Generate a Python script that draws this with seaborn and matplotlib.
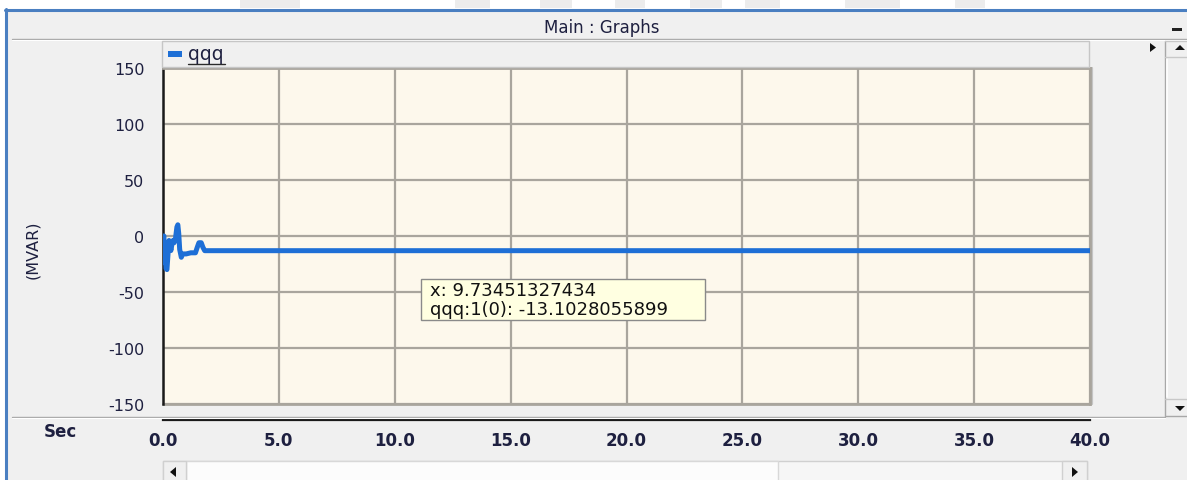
import matplotlib
matplotlib.use("Agg")
import matplotlib.pyplot as plt
from matplotlib.patches import Rectangle, Polygon
from matplotlib.lines import Line2D
import pandas as pd
import seaborn as sns

# ---- data -----------------------------------------------------------------
series_name = "qqq"
steady_value = -13.1028055899
cursor_x = 9.73451327434

# simulation time (s) and reactive power (MVAR)
time_s = [0.00, 0.04, 0.07, 0.10, 0.13, 0.17, 0.21, 0.26, 0.30, 0.34, 0.38,
          0.43, 0.48, 0.54, 0.60, 0.64, 0.68, 0.72, 0.79, 0.85, 1.00, 1.20,
          1.40, 1.48, 1.55, 1.65, 1.72, 1.80, 40.0]
q_mvar = [0.0, 0.0, -24.0, -10.0, -29.0, -30.0, -18.0, -4.0, -8.0, -13.0, -8.0,
          -4.0, -6.0, -2.0, 8.0, 10.0, 2.0, -12.0, -19.0, -16.0, -16.0, -15.0,
          -15.0, -10.0, -6.0, -6.0, -10.0, steady_value, steady_value]

y_ticks = [-150, -100, -50, 0, 50, 100, 150]
x_ticks = [0, 5, 10, 15, 20, 25, 30, 35, 40]
x_tick_labels = ["0.0", "5.0", "10.0", "15.0", "20.0", "25.0", "30.0", "35.0", "40.0"]

title_text = "Main : Graphs"
y_label = "(MVAR)"
x_label = "Sec"
tooltip_lines = [f"x: {cursor_x}", f"{series_name}:1(0): {steady_value}"]

# ---- style ----------------------------------------------------------------
sns.set_theme(style="white")
plt.rcParams["font.family"] = ["DejaVu Sans"]
plt.rcParams["axes.unicode_minus"] = False

W, H = 1187, 481
fig = plt.figure(figsize=(W / 100, H / 100), dpi=100, facecolor="#f0f0f0")

TXT = "#1e2040"
GRID = "#a9a59d"


def fx(x):
    return x / W


def fy(y):
    return 1 - y / H


def box(x0, y0, x1, y1, fc, ec="none", lw=0.0, z=0):
    fig.add_artist(Rectangle((fx(x0), fy(y1)), (x1 - x0) / W, (y1 - y0) / H,
                             transform=fig.transFigure, facecolor=fc,
                             edgecolor=ec, linewidth=lw, zorder=z))


def hline(x0, x1, y, color, lw=1.0, z=1):
    fig.add_artist(Line2D([fx(x0), fx(x1)], [fy(y), fy(y)],
                          transform=fig.transFigure, color=color, lw=lw, zorder=z))


def vline(x, y0, y1, color, lw=1.0, z=1):
    fig.add_artist(Line2D([fx(x), fx(x)], [fy(y0), fy(y1)],
                          transform=fig.transFigure, color=color, lw=lw, zorder=z))


def tri(pts, color="#111111", z=3):
    fig.add_artist(Polygon([(fx(a), fy(b)) for a, b in pts], closed=True,
                           transform=fig.transFigure, facecolor=color,
                           edgecolor="none", zorder=z))


# window chrome: white strip above, blue frame
box(0, 0, W, 11, "#ffffff", z=0)
box(0, 0, 6, H, "#ffffff", z=0)
for a, b in [(240, 300), (455, 490), (540, 572), (615, 645), (690, 722),
             (745, 780), (845, 900), (955, 985)]:
    box(a, 0, b, 9, "#ececec", z=0.5)
hline(5, W, 11, "#4a7fc1", lw=2.2, z=2)
vline(6, 10, H, "#4a7fc1", lw=2.2, z=2)

# title bar
fig.text(fx(602), fy(28), title_text, ha="center", va="center",
         fontsize=12, color=TXT)
hline(12, W, 40, "#a8a8a8", lw=1.0)
hline(12, W, 41, "#ffffff", lw=0.8)
box(1172, 29, 1182, 31.5, "#222222", z=3)

# ---- main axes --------------------------------------------------------------
ax = fig.add_axes([fx(163), fy(405), (1090 - 163) / W, (405 - 69) / H])
ax.set_facecolor("#fdf8ec")

df = pd.DataFrame({"time": time_s, series_name: q_mvar})
sns.lineplot(data=df, x="time", y=series_name, ax=ax, color="#1e6fd6",
             linewidth=3.6, estimator=None, legend=False, zorder=3)

ax.set_xlim(0, 40)
ax.set_ylim(-150, 150)
ax.set_xticks(x_ticks)
ax.set_xticklabels(x_tick_labels)
ax.set_yticks(y_ticks)
ax.grid(True, color=GRID, linewidth=1.6, zorder=1)
ax.set_axisbelow(True)

for side in ("top", "right"):
    ax.spines[side].set_color(GRID)
    ax.spines[side].set_linewidth(2.0)
ax.spines["left"].set_color("#1a1a1a")
ax.spines["left"].set_linewidth(1.8)
ax.spines["bottom"].set_position(("outward", 11.5))
ax.spines["bottom"].set_color("#1a1a1a")
ax.spines["bottom"].set_linewidth(1.6)

# plot frame bottom edge and right-hand shadow
ax.add_line(Line2D([0, 1], [0, 0], transform=ax.transAxes, color=GRID,
                   lw=2.0, clip_on=False, zorder=2))
ax.add_line(Line2D([1.0025, 1.0025], [0, 1], transform=ax.transAxes,
                   color="#c4c4c4", lw=1.6, clip_on=False, zorder=2))

ax.tick_params(axis="y", direction="out", length=6.5, width=1.4,
               color="#1a1a1a", pad=7, labelsize=11.5, labelcolor=TXT)
ax.tick_params(axis="x", direction="out", length=3.2, width=1.5,
               color="#1a1a1a", pad=4.5, labelsize=12, labelcolor=TXT)
for lab in ax.get_xticklabels():
    lab.set_fontweight("bold")

ax.set_ylabel(y_label, fontsize=11.5, color=TXT)
ax.yaxis.set_label_coords((33 - 163) / 927, (405 - 250) / 336)
ax.yaxis.label.set_va("center")
ax.set_xlabel(x_label, fontsize=12, fontweight="bold", color=TXT)
ax.xaxis.set_label_coords((60 - 163) / 927, (405 - 432) / 336)
ax.xaxis.label.set_va("center")

# separator between plot area and time axis
hline(12, 1165, 417.5, "#a8a8a8", lw=1.0)
hline(12, 1165, 418.7, "#ffffff", lw=0.8)

# ---- legend strip -----------------------------------------------------------
box(162, 42, 1089, 68, "#f0f0f0", ec="#c6c6c6", lw=1.0, z=1)
box(168, 52, 182, 57.5, "#1e6fd6", z=3)
fig.text(fx(188), fy(60.5), series_name, ha="left", va="baseline",
         fontsize=13.5, color=TXT, zorder=3)
hline(188, 225, 64.5, "#2a2a2a", lw=1.0, z=3)
tri([(1150, 44), (1150, 53), (1156, 48.5)])

# ---- tooltip ----------------------------------------------------------------
box(420.5, 279.5, 704.5, 320.5, "#ffffe1", ec="#8a8a8a", lw=1.0, z=4)
fig.text(fx(430), fy(290.5), tooltip_lines[0], ha="left", va="center",
         fontsize=13, color="#111111", zorder=5)
fig.text(fx(430), fy(310), tooltip_lines[1], ha="left", va="center",
         fontsize=13, color="#111111", zorder=5)

# ---- vertical scrollbar -------------------------------------------------------
box(1165, 42, W, 417, "#f0f0f0", z=1)
vline(1165, 42, 417, "#a8a8a8", lw=1.0, z=2)
vline(1167, 60, 398, "#ffffff", lw=1.2, z=2)
hline(1165, W, 42, "#c8c8c8", lw=1.0, z=2)
hline(1165, W, 58, "#c8c8c8", lw=1.0, z=2)
hline(1165, W, 400, "#c8c8c8", lw=1.0, z=2)
hline(1165, W, 417, "#a8a8a8", lw=1.0, z=2)
tri([(1175, 51), (1185, 51), (1180, 46)])
tri([(1175, 407), (1185, 407), (1180, 412)])

# ---- horizontal scrollbar -----------------------------------------------------
box(163, 462, 1087, H + 2, "#f6f6f6", ec="#d0d0d0", lw=1.0, z=1)
box(186, 462, 778, H + 2, "#fcfcfc", ec="#d8d8d8", lw=1.0, z=2)
box(163, 462, 186, H + 2, "#f0f0f0", ec="#d0d0d0", lw=1.0, z=2)
box(1062, 462, 1087, H + 2, "#f0f0f0", ec="#d0d0d0", lw=1.0, z=2)
tri([(176, 468), (176, 478), (170, 473)])
tri([(1072, 468), (1072, 478), (1078, 473)])

fig.savefig("out.png", dpi=100, facecolor=fig.get_facecolor())
